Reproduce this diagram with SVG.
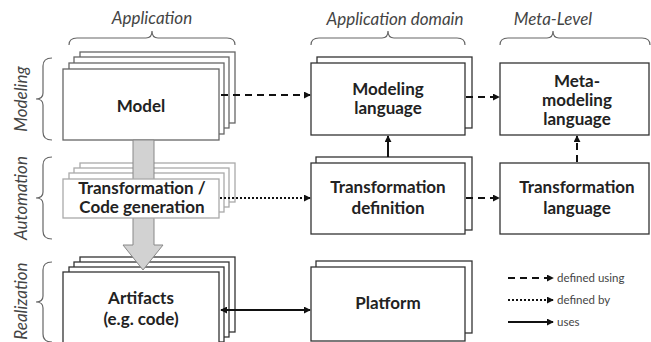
<svg xmlns="http://www.w3.org/2000/svg" width="651" height="342" viewBox="0 0 651 342">
<defs>
<style>
.bx{fill:#fff;stroke:#333;stroke-width:1.3}
.bg{fill:#fff;stroke:#666;stroke-width:1.3}
.bl{fill:#fff;stroke:#aaa;stroke-width:1.3}
.t{font-family:Lato,"Liberation Sans",sans-serif;font-weight:bold;font-size:17px;fill:#222;text-anchor:middle}
.h{font-family:Lato,"Liberation Sans",sans-serif;font-style:italic;font-size:17px;fill:#444;text-anchor:middle}
.lg{font-family:Lato,"Liberation Sans",sans-serif;font-size:11.5px;fill:#444}
.br{fill:none;stroke:#666;stroke-width:1.2}
.c{fill:none;stroke:#111;stroke-width:2}
.dash{stroke-dasharray:7,5}
.dot{stroke-dasharray:2,2}
</style>
<marker id="ah" viewBox="0 0 8 8" refX="7" refY="4" markerWidth="7" markerHeight="7" markerUnits="userSpaceOnUse" orient="auto">
<path d="M0,0 L8,4 L0,8 Z" fill="#111"/>
</marker>
<marker id="ahs" viewBox="0 0 8 8" refX="1" refY="4" markerWidth="7" markerHeight="7" markerUnits="userSpaceOnUse" orient="auto">
<path d="M8,0 L0,4 L8,8 Z" fill="#111"/>
</marker>
</defs>

<g id="headers">
<text class="h" x="152" y="24">Application</text>
<text class="h" x="395" y="25">Application domain</text>
<text class="h" x="553" y="25">Meta-Level</text>
<path class="br" d="M69,45 Q69,38 77,38 L146,38 Q152,38 152,31 Q152,38 158,38 L227,38 Q235,38 235,45"/>
<path class="br" d="M311,45 Q311,38 319,38 L382,38 Q388,38 388,31 Q388,38 394,38 L457,38 Q465,38 465,45"/>
<path class="br" d="M500,45 Q500,38 508,38 L547,38 Q553,38 553,31 Q553,38 559,38 L642,38 Q650,38 650,45"/>
<text class="h" transform="translate(27,99) rotate(-90)">Modeling</text>
<text class="h" transform="translate(27,198) rotate(-90)">Automation</text>
<text class="h" transform="translate(27,301) rotate(-90)">Realization</text>
<path class="br" d="M52,58 Q43,58 43,66 L43,93 Q43,99 36,99 Q43,99 43,105 L43,132 Q43,140 52,140"/>
<path class="br" d="M52,157 Q43,157 43,165 L43,192 Q43,198 36,198 Q43,198 43,204 L43,231 Q43,239 52,239"/>
<path class="br" d="M52,262 Q43,262 43,270 L43,296 Q43,302 36,302 Q43,302 43,308 L43,334 Q43,342 52,342"/>
</g>

<g id="model">
<rect class="bg" x="80" y="52" width="155" height="71"/>
<rect class="bg" x="74" y="57" width="155" height="71"/>
<rect class="bg" x="69" y="63" width="155" height="71"/>
<rect class="bg" x="63" y="69" width="156" height="71"/>
<text class="t" x="141" y="112">Model</text>
</g>

<g id="artifacts">
<rect class="bx" x="80" y="257" width="155" height="75"/>
<rect class="bx" x="74" y="262" width="155" height="75"/>
<rect class="bx" x="69" y="267" width="155" height="75"/>
<rect class="bx" x="63" y="272" width="156" height="75"/>
<text class="t" x="141" y="304">Artifacts</text>
<text class="t" x="141" y="325">(e.g. code)</text>
</g>

<g id="transformation">
<rect class="bl" x="80" y="163" width="155" height="39"/>
<rect class="bl" x="74" y="168" width="155" height="39"/>
<rect class="bl" x="69" y="173" width="155" height="39"/>
</g>

<g id="flow">
<path d="M133,140 L154,140 L154,245 L163,245 L143,270 L123,245 L133,245 Z" fill="#d2d2d2" stroke="#888" stroke-width="1"/>
</g>

<g id="transformation-front">
<rect class="bl" x="63" y="179" width="156" height="39"/>
<text class="t" x="142" y="194">Transformation /</text>
<text class="t" x="142" y="213">Code generation</text>
</g>

<g id="modeling-language">
<rect class="bx" x="317" y="57" width="155" height="71"/>
<rect class="bx" x="311" y="63" width="154" height="72"/>
<text class="t" x="388" y="95">Modeling</text>
<text class="t" x="388" y="114">language</text>
</g>

<g id="meta-modeling-language">
<rect class="bx" x="500" y="63" width="149" height="72"/>
<text class="t" x="577" y="87">Meta-</text>
<text class="t" x="577" y="106">modeling</text>
<text class="t" x="577" y="125">language</text>
</g>

<g id="transformation-definition">
<rect class="bx" x="316" y="157" width="156" height="73"/>
<rect class="bx" x="311" y="163" width="154" height="71"/>
<text class="t" x="388" y="193">Transformation</text>
<text class="t" x="388" y="214">definition</text>
</g>

<g id="transformation-language">
<rect class="bx" x="500" y="163" width="149" height="71"/>
<text class="t" x="577" y="193">Transformation</text>
<text class="t" x="577" y="214">language</text>
</g>

<g id="platform">
<rect class="bx" x="316" y="261" width="156" height="72"/>
<rect class="bx" x="311" y="267" width="154" height="74"/>
<text class="t" x="388" y="309">Platform</text>
</g>

<g id="connectors">
<line class="c dash" x1="221" y1="95" x2="310" y2="95" marker-end="url(#ah)"/>
<line class="c dash" x1="466" y1="97" x2="499" y2="97" marker-end="url(#ah)"/>
<line class="c dot" x1="220" y1="198" x2="310" y2="198" marker-end="url(#ah)"/>
<line class="c dash" x1="466" y1="198" x2="499" y2="198" marker-end="url(#ah)"/>
<line class="c" x1="388" y1="157" x2="388" y2="136" marker-end="url(#ah)"/>
<line class="c dash" x1="577" y1="162" x2="577" y2="136" stroke-dasharray="7,4" marker-end="url(#ah)"/>
<line class="c" x1="221" y1="310" x2="310" y2="310" marker-start="url(#ahs)" marker-end="url(#ah)"/>
</g>

<g id="legend">
<line class="c dash" x1="508" y1="278" x2="553" y2="278" marker-end="url(#ah)"/>
<line class="c dot" x1="508" y1="300" x2="553" y2="300" marker-end="url(#ah)"/>
<line class="c" x1="508" y1="322" x2="553" y2="322" marker-end="url(#ah)"/>
<text class="lg" x="557" y="282">defined using</text>
<text class="lg" x="557" y="304">defined by</text>
<text class="lg" x="557" y="326">uses</text>
</g>
</svg>
